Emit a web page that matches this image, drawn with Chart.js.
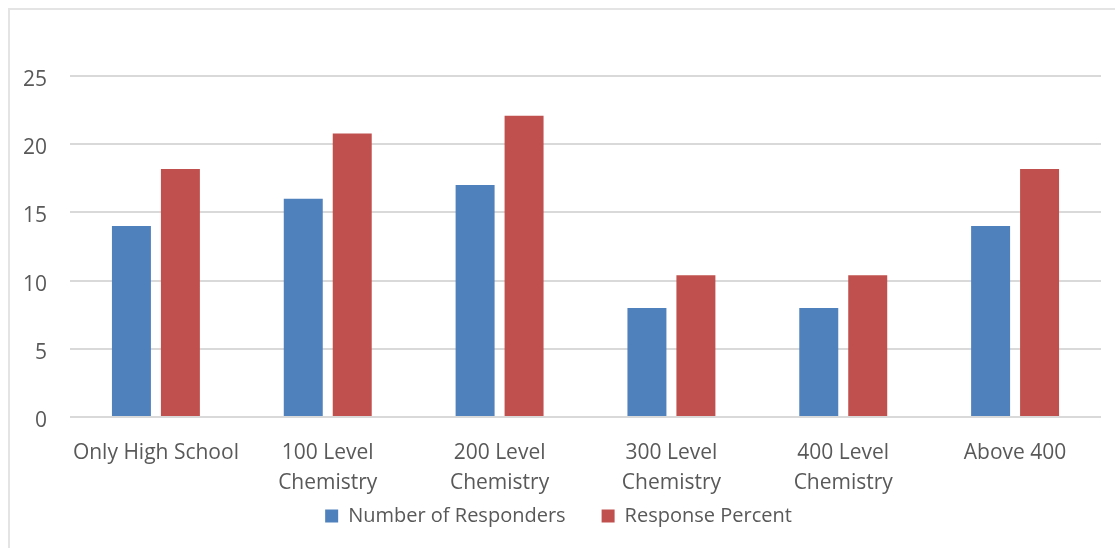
<!DOCTYPE html>
<html>
<head>
<meta charset="utf-8">
<script src="https://cdn.jsdelivr.net/npm/chart.js@4.4.1/dist/chart.umd.min.js"></script>
<style>
  html, body { margin: 0; padding: 0; background: #ffffff; }
  #wrap { position: relative; width: 1115px; height: 548px; overflow: hidden; }
  #frame { position: absolute; left: 8px; top: 8px; width: 1200px; height: 600px;
           border: 2px solid #e4e4e4; box-sizing: border-box; }
  canvas { position: absolute; left: 0; top: 0; }
</style>
</head>
<body>
<div id="wrap">
  <div id="frame"></div>
  <canvas id="chart" width="1115" height="548"></canvas>
</div>
<script>
// Chemistry background of survey respondents
const categories = [
  'Only High School',
  ['100 Level', 'Chemistry'],
  ['200 Level', 'Chemistry'],
  ['300 Level', 'Chemistry'],
  ['400 Level', 'Chemistry'],
  'Above 400'
];
const responders = [14, 16, 17, 8, 8, 14];
const responsePercent = [18.18, 20.78, 22.08, 10.39, 10.39, 18.18];
const yTicks = [0, 5, 10, 15, 20, 25];

const textColor = '#595959';
const fontFamily = '"Open Sans", "Liberation Sans", sans-serif';

new Chart(document.getElementById('chart'), {
  type: 'bar',
  data: {
    labels: categories,
    datasets: [
      {
        label: 'Number of Responders',
        data: responders,
        backgroundColor: '#4f81bd',
        categoryPercentage: 0.57,
        barPercentage: 0.796
      },
      {
        label: 'Response Percent',
        data: responsePercent,
        backgroundColor: '#c0504d',
        categoryPercentage: 0.57,
        barPercentage: 0.796
      }
    ]
  },
  options: {
    responsive: false,
    animation: false,
    layout: { padding: { left: 16, right: 14, top: 76, bottom: 12 } },
    plugins: {
      tooltip: { enabled: false },
      legend: {
        position: 'bottom',
        labels: {
          color: textColor,
          font: { family: fontFamily, size: 20 },
          boxWidth: 13,
          boxHeight: 13,
          padding: 36
        }
      }
    },
    scales: {
      x: {
        afterFit: (scale) => {
          // compact box so the legend sits close; let the two-line labels overflow it
          scale.height = 53;
          scale._computeLabelArea = () => null;
        },
        grid: { display: false, drawTicks: false },
        border: { display: false },
        ticks: {
          color: textColor,
          font: { family: fontFamily, size: 21, lineHeight: 1.43 },
          padding: 21,
          maxRotation: 0,
          autoSkip: false
        }
      },
      y: {
        min: 0,
        max: 25,
        afterFit: (scale) => { scale.width = 54; },
        afterBuildTicks: (scale) => { scale.ticks = yTicks.map(v => ({ value: v })); },
        grid: { color: '#d9d9d9', lineWidth: 2, drawTicks: false },
        border: { display: false },
        ticks: {
          color: textColor,
          font: { family: fontFamily, size: 21 },
          padding: 23,
          labelOffset: 4
        }
      }
    }
  }
});
</script>
</body>
</html>
